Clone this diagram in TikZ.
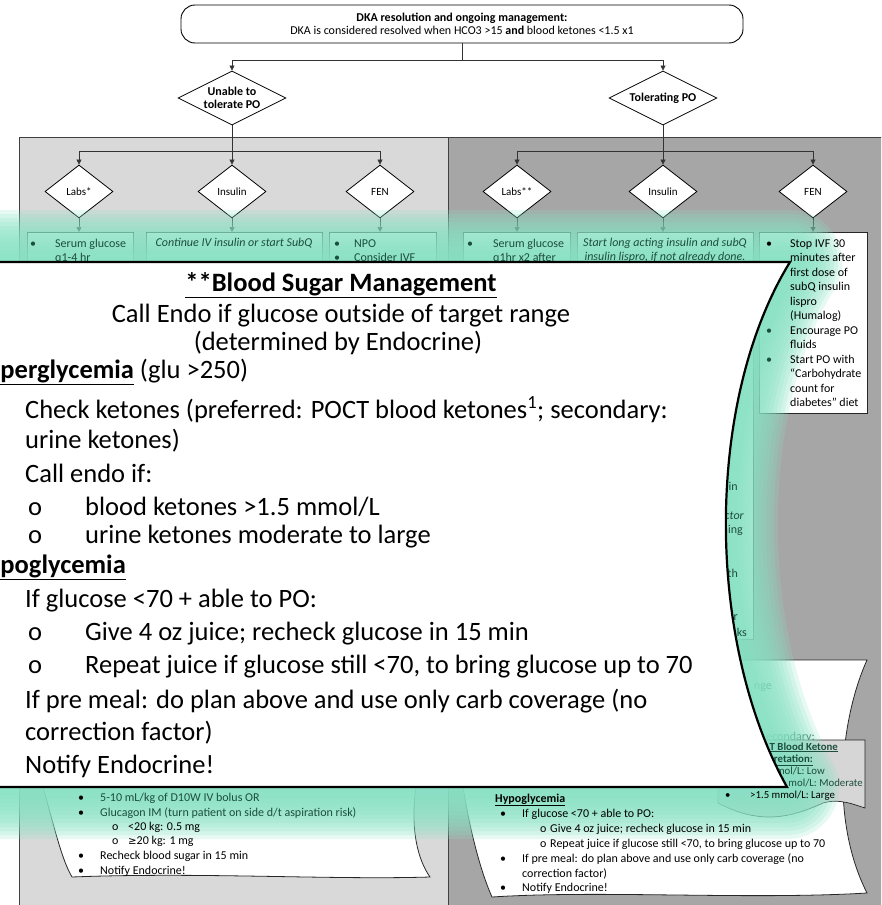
\documentclass[tikz,border=0pt]{standalone}
\usepackage{fontspec}
\setmainfont{Carlito}
\newfontfamily\djv[Scale=0.85]{DejaVu Sans}
\usetikzlibrary{shapes.geometric,arrows.meta}
\definecolor{lpanel}{RGB}{217,217,217}
\definecolor{dpanel}{RGB}{166,166,166}
\definecolor{mint}{RGB}{135,226,195}
\definecolor{callgray}{RGB}{214,214,214}
\definecolor{gtext}{RGB}{28,78,62}
\begin{document}
\begin{tikzpicture}[x=1pt,y=-1pt,
  arr/.style={-{Triangle[length=5pt,width=5pt]}, line width=0.6pt, draw=black!80},
  conn/.style={line width=0.6pt, draw=black!80},
  panelbd/.style={line width=0.9pt, draw=black!75},
  bigdia/.style={diamond, shape aspect=2, draw=black, line width=0.8pt, fill=white, minimum width=108pt, minimum height=54pt, inner sep=0pt, align=center, font=\fontsize{12}{13.5}\selectfont\bfseries},
  smalldia/.style={diamond, shape aspect=1.3, draw=black, line width=0.8pt, fill=white, minimum width=68pt, minimum height=53pt, inner sep=0pt, font=\fontsize{11}{12}\selectfont},
  boxs/.style={draw=black!85, line width=0.7pt, fill=white, anchor=north west, inner sep=0pt},
  sm/.style={font=\fontsize{12}{13}\selectfont, inner sep=0pt, anchor=base west},
  gsm/.style={sm, text=gtext},
  gsmc/.style={font=\fontsize{12}{13}\selectfont\itshape, inner sep=0pt, anchor=base, text=gtext},
  frag/.style={font=\fontsize{12}{13}\selectfont, inner sep=0pt, anchor=base east, text=gtext},
  cfrag/.style={font=\fontsize{10.8}{12}\selectfont, inner sep=0pt, anchor=base east, text=gtext},
  big/.style={font=\fontsize{26.5}{30}\selectfont, inner sep=0pt, anchor=base west},
  bigc/.style={font=\fontsize{26.5}{30}\selectfont, inner sep=0pt, anchor=base},
  docline/.style={draw=black!85, line width=0.8pt, fill=white}
]
\useasboundingbox (0,0) rectangle (881,905);
\clip (0,0) rectangle (881,905);

% panels
\fill[lpanel] (19,137) rectangle (448,910);
\fill[dpanel] (448,137) rectangle (890,910);
\draw[panelbd] (19,910) -- (19,137) -- (890,137);
\draw[panelbd] (448,137) -- (448,910);

% top box
\node[draw=black, line width=0.9pt, rounded corners=14pt, minimum width=562pt, minimum height=38pt, align=center, fill=white, font=\fontsize{12}{13.5}\selectfont] (top) at (462,24)
  {\textbf{DKA resolution and ongoing management:}\\DKA is considered resolved when HCO3 >15 \textbf{and} blood ketones <1.5 x1};

% decision diamonds
\node[bigdia] (d1) at (232,98) {Unable to\\tolerate PO};
\node[bigdia] (d2) at (663,98) {Tolerating PO};
\draw[conn] (top.south) -- ++(0,17) coordinate (j0);
\draw[arr] (j0) -| (d1.north);
\draw[arr] (j0) -| (d2.north);

\node[smalldia] (l1) at (79,191.5) {Labs*};
\node[smalldia] (l2) at (232,191.5) {Insulin};
\node[smalldia] (l3) at (380,191.5) {FEN};
\node[smalldia] (r1) at (517,191.5) {Labs**};
\node[smalldia] (r2) at (663,191.5) {Insulin};
\node[smalldia] (r3) at (813,191.5) {FEN};

\coordinate (jl) at (232,151);
\coordinate (jr) at (663,151);
\draw[arr] (d1.south) -- (l2.north);
\draw[arr] (jl) -| (l1.north);
\draw[arr] (jl) -| (l3.north);
\draw[arr] (d2.south) -- (r2.north);
\draw[arr] (jr) -| (r1.north);
\draw[arr] (jr) -| (r3.north);

% boxes
\node[boxs, minimum width=106pt, minimum height=410pt] (b1) at (27,232) {};
\node[boxs, minimum width=176pt, minimum height=410pt] (b2) at (146,232) {};
\node[boxs, minimum width=107pt, minimum height=410pt] (b3) at (329,232) {};
\node[boxs, minimum width=107pt, minimum height=407pt] (b4) at (463,232) {};
\node[boxs, minimum width=176pt, minimum height=407pt] (b5) at (577,232) {};
\node[boxs, minimum width=108pt, minimum height=181pt] (b6) at (759,232) {};
\foreach \a/\b in {l1/b1,l2/b2,l3/b3,r1/b4,r2/b5,r3/b6}
  \draw[arr] (\a.south) -- (\a.south |- \b.north);

% lower left document box
\draw[docline] (40,660) -- (43,787) .. controls (55,830) and (62,860) .. (72,877)
  .. controls (200,872) and (330,880) .. (430,877)
  .. controls (418,860) and (410,830) .. (416,787) -- (420,660) -- cycle;

% lower right document box
\draw[docline] (460,660) -- (463,787) .. controls (470,830) and (480,870) .. (492,897)
  .. controls (600,890) and (750,900) .. (867,893)
  .. controls (830,820) and (840,720) .. (867,660) -- cycle;
\node[frag] (h1) at (772,689) {nge};
\node[frag] (h2) at (815,740) {econdary:};
% ketone callout
\draw[draw=black!85, line width=0.7pt, fill=callgray] (718,740) -- (865,740) -- (865,808)
  .. controls (855,805) and (840,798) .. (823,803)
  .. controls (790,818) and (760,825) .. (718,803) -- cycle;

% glow
\foreach \w in {8,16,...,104} {
  \draw[mint, line width=\w pt, draw opacity=0.2, line join=round]
    (-60,262) -- (790,262) .. controls (705,400) and (705,640) .. (787,787) -- (-60,787) -- cycle;
}

% box texts
\node[gsm] (t1a) at (30,247) {•};
\node[gsm] (t1b) at (55,247) {Serum glucose};
\node[gsm] (t1c) at (55,261.5) {q1-4 hr};
\node[gsmc] (t2a) at (234,246) {Continue IV insulin or start SubQ};
\node[gsm] (t3a) at (334,247) {•};
\node[gsm] (t3b) at (354,247) {NPO};
\node[gsm] (t3c) at (334,261.5) {•};
\node[gsm] (t3d) at (354,261.5) {Consider IVF};
\node[gsm] (t4a) at (467,247) {•};
\node[gsm] (t4b) at (493,247) {Serum glucose};
\node[gsm] (t4c) at (493,261.5) {q1hr x2 after};
\node[gsmc] (t5a) at (665,246) {Start long acting insulin and subQ};
\node[gsmc] (t5b) at (665,260.5) {insulin lispro, if not already done.};
\node[sm] (t6a) at (766,247) {•};
\node[sm] (t6b) at (790,247) {Stop IVF 30};
\node[sm] (t6c) at (790,261.5) {minutes after};
\node[sm] (t6d) at (790,276) {first dose of};
\node[sm] (t6e) at (790,290.5) {subQ insulin};
\node[sm] (t6f) at (790,305) {lispro};
\node[sm] (t6g) at (790,319.5) {(Humalog)};
\node[gsm] (t6h) at (766,334) {•};
\node[sm] (t6i) at (790,334) {Encourage PO};
\node[sm] (t6j) at (790,348.5) {fluids};
\node[gsm] (t6k) at (766,363) {•};
\node[sm] (t6l) at (790,363) {Start PO with};
\node[sm] (t6m) at (790,377.5) {“Carbohydrate};
\node[sm] (t6n) at (790,392) {count for};
\node[sm] (t6o) at (790,406.5) {diabetes” diet};

% fragments of the right insulin box
\node[frag] (f1) at (738,490) {in};
\node[frag, font=\fontsize{12}{13}\selectfont\itshape] (f2) at (744,519) {ctor};
\node[frag] (f3) at (743,533) {ing};
\node[frag] (f4) at (738,577) {th};
\node[frag] (f5) at (738,620) {r};
\node[frag] (f6) at (747,636) {ks};

% lower left document text
\node[sm] (g1) at (78,801) {•};
\node[gsm] (g2) at (100,801) {5-10 mL/kg of D10W IV bolus OR};
\node[sm] (g3) at (78,816) {•};
\node[gsm] (g4) at (100,816) {Glucagon IM (turn patient on side d/t aspiration risk)};
\node[sm] (g5) at (112,830) {o};
\node[sm] (g6) at (128,830) {<20 kg: 0.5 mg};
\node[sm] (g7) at (112,844) {o};
\node[sm] (g8) at (128,844) {{\djv ≥}20 kg: 1 mg};
\node[sm] (g9) at (78,859) {•};
\node[sm] (g10) at (100,859) {Recheck blood sugar in 15 min};
\node[sm] (g11) at (78,874) {•};
\node[sm] (g12) at (100,874) {Notify Endocrine!};

% ketone callout text
\node[cfrag] (k1) at (838,750) {\textbf{\underline{T Blood Ketone}}};
\node[cfrag] (k2) at (813,762) {\textbf{\underline{erpretation:}}};
\node[cfrag] (k3) at (825,774) {mol/L: Low};
\node[cfrag] (k4) at (863,786) {mol/L: Moderate};
\node[font=\fontsize{10.8}{12}\selectfont, inner sep=0pt, anchor=base west] (k5) at (725,798) {•};
\node[font=\fontsize{10.8}{12}\selectfont, inner sep=0pt, anchor=base west] (k6) at (750,798) {>1.5 mmol/L: Large};

% lower right document text
\node[sm] (m1) at (495,802) {\textbf{\underline{Hypoglycemia}}};
\node[sm] (m2) at (500,817) {•};
\node[sm] (m3) at (522,817) {If glucose <70 + able to PO:};
\node[sm] (m4) at (540,832) {o};
\node[sm] (m5) at (550,832) {Give 4 oz juice; recheck glucose in 15 min};
\node[sm] (m6) at (540,847) {o};
\node[sm] (m7) at (550,847) {Repeat juice if glucose still <70, to bring glucose up to 70};
\node[sm] (m8) at (500,862) {•};
\node[sm] (m9) at (522,862) {If pre meal: do plan above and use only carb coverage (no};
\node[sm] (m10) at (522,877) {correction factor)};
\node[sm] (m11) at (500,891) {•};
\node[sm] (m12) at (522,891) {Notify Endocrine!};

% magnified pop-up
\draw[line width=2.2pt, fill=white, line join=miter]
  (-60,262) -- (790,262) .. controls (705,400) and (705,640) .. (787,787) -- (-60,787) -- cycle;

\node[bigc] (p1) at (341,291) {\textbf{\underline{**Blood Sugar Management}}};
\node[bigc] (p2) at (341,322) {Call Endo if glucose outside of target range};
\node[bigc] (p3) at (338,350) {(determined by Endocrine)};
\node[big] (p4) at (-29,378) {\textbf{\underline{Hyperglycemia}} (glu >250)};
\node[big] (p5) at (25,418) {Check ketones (preferred: POCT blood ketones\textsuperscript{1}; secondary:};
\node[big] (p6) at (25,448) {urine ketones)};
\node[big] (p7) at (25,482) {Call endo if:};
\node[big] (p8) at (28,515) {o};
\node[big] (p9) at (85,515) {blood ketones >1.5 mmol/L};
\node[big] (p10) at (28,543) {o};
\node[big] (p11) at (85,543) {urine ketones moderate to large};
\node[big] (p12) at (-29,573) {\textbf{\underline{Hypoglycemia}}};
\node[big] (p13) at (25,607) {If glucose <70 + able to PO:};
\node[big] (p14) at (28,640) {o};
\node[big] (p15) at (85,640) {Give 4 oz juice; recheck glucose in 15 min};
\node[big] (p16) at (28,673) {o};
\node[big] (p17) at (85,673) {Repeat juice if glucose still <70, to bring glucose up to 70};
\node[big] (p18) at (25,708) {If pre meal: do plan above and use only carb coverage (no};
\node[big] (p19) at (25,740) {correction factor)};
\node[big] (p20) at (25,773) {Notify Endocrine!};
\end{tikzpicture}
\end{document}
